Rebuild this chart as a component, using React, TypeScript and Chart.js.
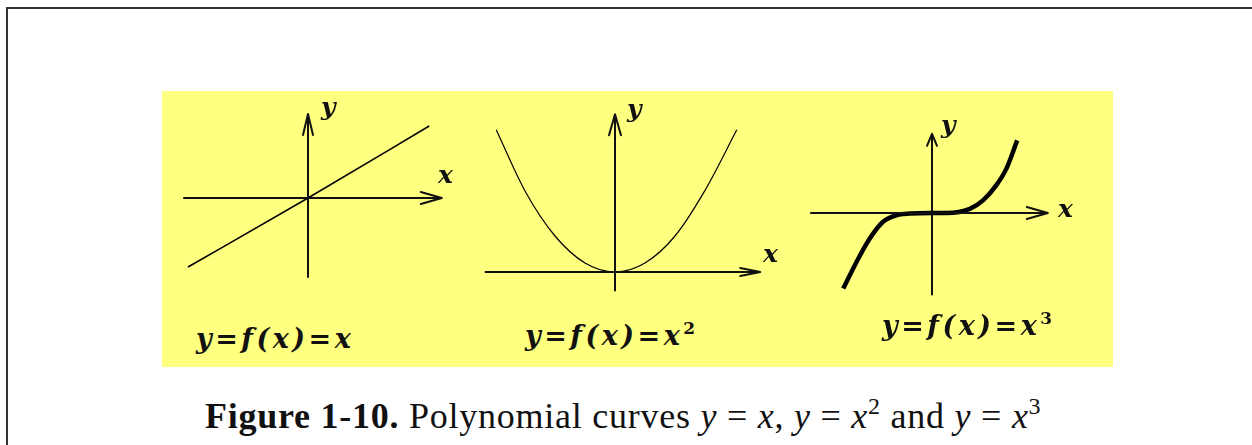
import React, { useEffect, useRef } from "react";
import { Chart, registerables } from "chart.js";

Chart.register(...registerables);

// ---------- DATA (units: 1 = 60px) ----------
// Panel 1: y = x
const linearX = [-2.0, 0, 2.02];
const linearY = [-1.15, 0, 1.2];
// Panel 2: y = x^2
const parabolaX = [-1.98, -1.5, -1.0, -0.5, 0, 0.5, 1.0, 1.5, 2.03];
const parabolaY = [2.37, 1.35, 0.6, 0.15, 0, 0.15, 0.6, 1.36, 2.37];
// Panel 3: y = x^3
const cubicX = [-1.48, -1.26, -1.04, -0.82, -0.6, -0.37, 0, 0.25, 0.63, 0.85, 1.07, 1.24, 1.42];
const cubicY = [-1.26, -0.82, -0.43, -0.15, -0.04, -0.01, 0, 0, 0.07, 0.21, 0.46, 0.74, 1.21];
// Axis extents [start, end] for each panel
const axisX1 = [-2.08, 2.23];
const axisY1 = [-1.33, 1.4];
const axisX2 = [-2.17, 2.42];
const axisY2 = [-0.32, 2.63];
const axisX3 = [-2.03, 1.93];
const axisY3 = [-1.37, 1.32];
// Texts
const panelCaptions = ["y=f(x)=x", "y=f(x)=x", "y=f(x)=x"];
const panelExponents = ["", "2", "3"];
const figureLabel = "Figure 1-10.";
const figureText = "Polynomial curves";

type Arrow = { dir: "right" | "up"; back: number; spread: number };

type PanelCfg = {
  ox: number;
  oy: number;
  unit: number;
  xr: [number, number];
  yr: [number, number];
  curveX: number[];
  curveY: number[];
  axisX: number[];
  axisY: number[];
  curveWidth: number;
  arrowX: Arrow;
  arrowY: Arrow;
};

const panels: PanelCfg[] = [
  {
    ox: 308, oy: 198, unit: 60, xr: [-2.6, 2.6], yr: [-1.9, 1.9],
    curveX: linearX, curveY: linearY, axisX: axisX1, axisY: axisY1, curveWidth: 1.6,
    arrowX: { dir: "right", back: 21, spread: 6 }, arrowY: { dir: "up", back: 21, spread: 5 },
  },
  {
    ox: 615, oy: 272, unit: 60, xr: [-2.5, 2.7], yr: [-0.6, 2.9],
    curveX: parabolaX, curveY: parabolaY, axisX: axisX2, axisY: axisY2, curveWidth: 1.2,
    arrowX: { dir: "right", back: 20, spread: 4 }, arrowY: { dir: "up", back: 21, spread: 6 },
  },
  {
    ox: 932, oy: 213, unit: 60, xr: [-2.5, 2.4], yr: [-1.6, 1.6],
    curveX: cubicX, curveY: cubicY, axisX: axisX3, axisY: axisY3, curveWidth: 4.5,
    arrowX: { dir: "right", back: 21, spread: 6 }, arrowY: { dir: "up", back: 12, spread: 5 },
  },
];

const arrowPlugin = {
  id: "axisArrows",
  afterDatasetsDraw(chart: any) {
    const opts = chart.options.plugins.axisArrows;
    if (!opts) return;
    const { ctx, scales } = chart;
    ctx.save();
    ctx.strokeStyle = "#111";
    ctx.lineWidth = 2;
    ctx.lineCap = "round";
    ctx.lineJoin = "round";
    for (const a of opts.arrows) {
      const px = scales.x.getPixelForValue(a.x);
      const py = scales.y.getPixelForValue(a.y);
      ctx.beginPath();
      if (a.dir === "right") {
        ctx.moveTo(px - a.back, py - a.spread);
        ctx.lineTo(px, py);
        ctx.lineTo(px - a.back, py + a.spread);
      } else {
        ctx.moveTo(px - a.spread, py + a.back);
        ctx.lineTo(px, py);
        ctx.lineTo(px + a.spread, py + a.back);
      }
      ctx.stroke();
    }
    ctx.restore();
  },
};

function Panel({ cfg }: { cfg: PanelCfg }) {
  const ref = useRef<HTMLCanvasElement | null>(null);
  const left = cfg.ox + cfg.xr[0] * cfg.unit;
  const top = cfg.oy - cfg.yr[1] * cfg.unit;
  const width = (cfg.xr[1] - cfg.xr[0]) * cfg.unit;
  const height = (cfg.yr[1] - cfg.yr[0]) * cfg.unit;

  useEffect(() => {
    if (!ref.current) return;
    const curve = cfg.curveX.map((x, i) => ({ x, y: cfg.curveY[i] }));
    const xAxis = cfg.axisX.map((x) => ({ x, y: 0 }));
    const yAxis = cfg.axisY.map((y) => ({ x: 0, y }));
    const chart = new Chart(ref.current, {
      type: "line",
      data: {
        datasets: [
          { data: xAxis, borderColor: "#111", borderWidth: 2, pointRadius: 0 },
          { data: yAxis, borderColor: "#111", borderWidth: 2, pointRadius: 0 },
          {
            data: curve,
            borderColor: "#000",
            borderWidth: cfg.curveWidth,
            pointRadius: 0,
            cubicInterpolationMode: "monotone",
            borderCapStyle: "butt",
          },
        ],
      },
      options: {
        responsive: false,
        maintainAspectRatio: false,
        animation: false,
        events: [],
        layout: { padding: 0 },
        scales: {
          x: { type: "linear", display: false, min: cfg.xr[0], max: cfg.xr[1] },
          y: { type: "linear", display: false, min: cfg.yr[0], max: cfg.yr[1] },
        },
        plugins: {
          legend: { display: false },
          tooltip: { enabled: false },
          axisArrows: {
            arrows: [
              { x: cfg.axisX[1], y: 0, ...cfg.arrowX },
              { x: 0, y: cfg.axisY[1], ...cfg.arrowY },
            ],
          },
        } as any,
      },
      plugins: [arrowPlugin],
    });
    return () => chart.destroy();
  }, [cfg]);

  return (
    <canvas
      ref={ref}
      width={width}
      height={height}
      style={{ position: "absolute", left, top, width, height }}
    />
  );
}

const mathFont = "'DejaVu Serif', serif";

function Label({
  x, baseline, size, children, style,
}: {
  x: number; baseline: number; size: number; children: React.ReactNode; style?: React.CSSProperties;
}) {
  return (
    <div
      style={{
        position: "absolute",
        left: x,
        top: baseline - 0.846 * size,
        fontSize: size,
        lineHeight: 1,
        whiteSpace: "nowrap",
        fontFamily: mathFont,
        fontWeight: "bold",
        fontStyle: "italic",
        color: "#111",
        ...style,
      }}
    >
      {children}
    </div>
  );
}

const axisLabels = [
  { t: "y", x: 321, b: 115 },
  { t: "x", x: 438, b: 183 },
  { t: "y", x: 627, b: 117 },
  { t: "x", x: 763, b: 262 },
  { t: "y", x: 941, b: 133 },
  { t: "x", x: 1058, b: 217 },
];

const captionPos = [
  { x: 196, b: 348 },
  { x: 525, b: 343 },
  { x: 882, b: 333 },
];

export default function App() {
  const capFont = "'Liberation Serif', 'Times New Roman', serif";
  return (
    <div style={{ position: "absolute", left: 0, top: 0, width: 1252, height: 445, background: "#fff", overflow: "hidden" }}>
      <div
        style={{
          position: "absolute", left: 6, top: 7, width: 1250, height: 450,
          borderLeft: "2px solid #333", borderTop: "2px solid #333",
        }}
      />
      <div style={{ position: "absolute", left: 162, top: 91, width: 951, height: 276, background: "#ffff80" }} />
      {panels.map((p, i) => (
        <Panel key={i} cfg={p} />
      ))}
      {axisLabels.map((l, i) => (
        <Label key={i} x={l.x} baseline={l.b} size={25}>
          {l.t}
        </Label>
      ))}
      {captionPos.map((c, i) => (
        <Label key={i} x={c.x} baseline={c.b} size={27} style={{ letterSpacing: 3.5 }}>
          {panelCaptions[i]}
          {panelExponents[i] ? (
            <span style={{ fontSize: 17, verticalAlign: 11, fontStyle: "normal", letterSpacing: 0 }}>{panelExponents[i]}</span>
          ) : null}
        </Label>
      ))}
      <div
        style={{
          position: "absolute", left: 205, top: 424 - 0.838 * 36, fontSize: 36, lineHeight: 1,
          whiteSpace: "nowrap", fontFamily: capFont, color: "#111", letterSpacing: 0.75,
        }}
      >
        <b>{figureLabel}</b> {figureText}{" "}
        <i>y</i> = <i>x</i>, <i>y</i> = <i>x</i>
        <span style={{ fontSize: 24, verticalAlign: 14 }}>2</span> and <i>y</i> = <i>x</i>
        <span style={{ fontSize: 24, verticalAlign: 14 }}>3</span>
      </div>
    </div>
  );
}
